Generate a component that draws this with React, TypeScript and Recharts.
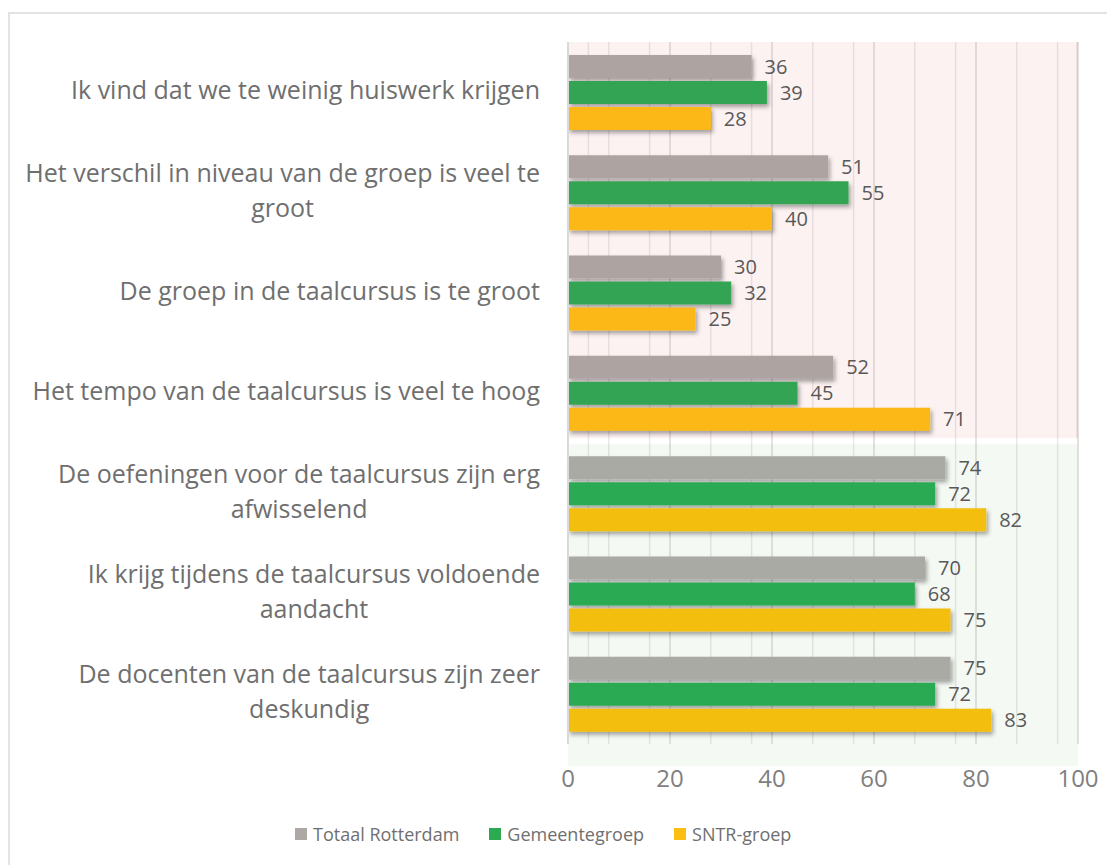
import React from "react";
import { BarChart, Bar, XAxis, YAxis, CartesianGrid, LabelList, Legend, ReferenceArea, Cell } from "recharts";

const categories = [
  "Ik vind dat we te weinig huiswerk krijgen",
  "Het verschil in niveau van de groep is veel te\ngroot",
  "De groep in de taalcursus is te groot",
  "Het tempo van de taalcursus is veel te hoog",
  "De oefeningen voor de taalcursus zijn erg\nafwisselend",
  "Ik krijg tijdens de taalcursus voldoende\naandacht",
  "De docenten van de taalcursus zijn zeer\ndeskundig",
];
const totaalRotterdam = [36, 51, 30, 52, 74, 70, 75];
const gemeentegroep = [39, 55, 32, 45, 72, 68, 72];
const sntrGroep = [28, 40, 25, 71, 82, 75, 83];
const xTicks = [0, 20, 40, 60, 80, 100];
const minorTicks = [4, 8, 12, 16, 24, 28, 32, 36, 44, 48, 52, 56, 64, 68, 72, 76, 84, 88, 92, 96];
const seriesNames = ["Totaal Rotterdam", "Gemeentegroep", "SNTR-groep"];

const data = categories.map((c, i) => ({
  name: c,
  totaal: totaalRotterdam[i],
  gemeente: gemeentegroep[i],
  sntr: sntrGroep[i],
}));

const FONT = "'Open Sans', 'Noto Sans', sans-serif";
const TEXT = "#595959";
const CAT_TEXT = "#6F6F6F";

const colorsTop = ["#ADA4A2", "#30A452", "#FBB814"];
const colorsBottom = ["#AAAAA4", "#2BAA52", "#F3BE11"];
const legendColors = ["#ADA8A6", "#2BAA52", "#FBBF14"];

let measureCtx: CanvasRenderingContext2D | null = null;
function measure(text: string, font: string): number {
  if (!measureCtx) {
    const c = document.createElement("canvas");
    measureCtx = c.getContext("2d");
  }
  if (!measureCtx) return text.length * 12;
  measureCtx.font = font;
  return measureCtx.measureText(text).width;
}

const CategoryTick = (props: any) => {
  const { x, y, payload } = props;
  const lines: string[] = String(payload.value).split("\n");
  const fontSize = 25;
  const lineH = 35;
  const widths = lines.map((l) => measure(l, `${fontSize}px 'Open Sans'`));
  const maxW = Math.max(...widths);
  const right = x - 26;
  const cx = right - maxW / 2;
  const startY = y - 3 - ((lines.length - 1) * lineH) / 2;
  return (
    <text
      x={cx}
      y={startY}
      textAnchor="middle"
      fill={CAT_TEXT}
      fontSize={fontSize}
      fontFamily={FONT}
      dominantBaseline="central"
    >
      {lines.map((l, i) => (
        <tspan key={i} x={cx} y={startY + i * lineH}>
          {l}
        </tspan>
      ))}
    </text>
  );
};

const LegendContent = () => (
  <div style={{ display: "flex", alignItems: "center", fontFamily: FONT, fontSize: 18, color: CAT_TEXT }}>
    {seriesNames.map((n, i) => (
      <div key={n} style={{ display: "flex", alignItems: "center", marginRight: 30 }}>
        <span style={{ display: "inline-block", width: 12, height: 12, background: legendColors[i], marginRight: 6 }} />
        <span>{n}</span>
      </div>
    ))}
  </div>
);

const GreenArea = (props: any) => {
  const { x, y, width, height } = props;
  return <rect x={x} y={y + 1} width={width} height={height + 21} fill="rgba(117,180,105,0.08)" />;
};
const PinkArea = (props: any) => {
  const { x, y, width, height } = props;
  return (
    <g>
      <rect x={x} y={y} width={width} height={height - 5} fill="rgba(230,93,93,0.08)" />
      <rect x={x + width - 2} y={y} width={2} height={height - 5} fill="rgba(160,110,110,0.12)" />
    </g>
  );
};

const keys = ["totaal", "gemeente", "sntr"];

export default function App() {
  return (
    <div
      style={{
        marginTop: 4,
        width: 1107,
        height: 853,
        borderTop: "2px solid #E3E3E3",
        borderLeft: "2px solid #E3E3E3",
        boxSizing: "border-box",
        position: "relative",
      }}
    >
      <svg width={0} height={0} style={{ position: "absolute" }}>
        <defs>
          <filter id="barShadow" x="-5%" y="-30%" width="115%" height="180%">
            <feDropShadow dx="2" dy="3" stdDeviation="2" floodColor="#000" floodOpacity="0.35" />
          </filter>
        </defs>
      </svg>
      <BarChart
        width={1105}
        height={851}
        data={data}
        layout="vertical"
        margin={{ top: 28, right: 37, bottom: 0, left: 0 }}
        barSize={23}
        barGap={3}
      >
        <CartesianGrid horizontal={false} verticalValues={minorTicks} stroke="#EBE8E8" strokeWidth={1.5} />
        <CartesianGrid horizontal={false} verticalValues={xTicks} stroke="#DCD9D9" strokeWidth={1.5} />
        <ReferenceArea y1={categories[0]} y2={categories[3]} x1={0} x2={100} shape={<PinkArea />} ifOverflow="visible" />
        <ReferenceArea y1={categories[4]} y2={categories[6]} x1={0} x2={100} shape={<GreenArea />} ifOverflow="visible" />
        <XAxis
          type="number"
          domain={[0, 100]}
          ticks={xTicks}
          axisLine={false}
          tickLine={false}
          tickSize={0}
          tickMargin={26}
          height={97}
          tick={{ fill: "#7F7F7F", fontSize: 24, fontFamily: FONT }}
        />
        <YAxis
          type="category"
          dataKey="name"
          width={558}
          axisLine={{ stroke: "#D9D9D9", strokeWidth: 2 }}
          tickLine={false}
          tickSize={0}
          tick={<CategoryTick />}
          interval={0}
        />
        {keys.map((k, si) => (
          <Bar key={k} dataKey={k} name={seriesNames[si]} isAnimationActive={false} filter="url(#barShadow)">
            {data.map((_, i) => (
              <Cell key={i} fill={i < 4 ? colorsTop[si] : colorsBottom[si]} />
            ))}
            <LabelList dataKey={k} position="right" offset={13} fill={TEXT} fontSize={20} fontFamily={FONT} />
          </Bar>
        ))}
        <Legend
          content={<LegendContent />}
          wrapperStyle={{ left: 285, top: 808, width: "auto" }}
        />
      </BarChart>
    </div>
  );
}
